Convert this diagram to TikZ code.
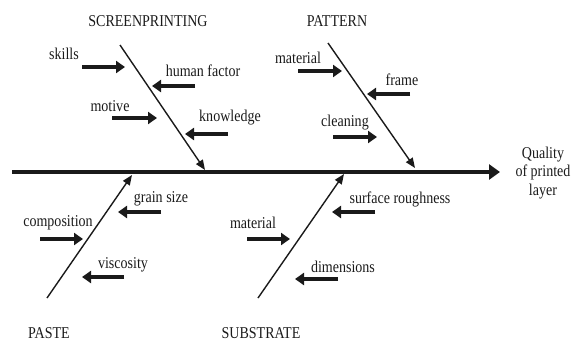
\documentclass[tikz,border=0pt]{standalone}
\usepackage{fontspec}
\setmainfont{Liberation Serif}[FakeStretch=0.85]
\usetikzlibrary{arrows.meta}
\definecolor{InkBlack}{HTML}{1A1A1A}

\begin{document}
\begin{tikzpicture}[x=1pt,y=-1pt,
  every node/.style={font=\fontsize{16.5}{18.5}\selectfont, inner sep=0pt, color=InkBlack},
  spine/.style={line width=4pt, InkBlack, -{Triangle[length=11pt,width=15pt]}},
  bone/.style={line width=1.4pt, InkBlack, -{Triangle[length=10pt,width=8pt]}},
  cause/.style={line width=3.5pt, InkBlack, -{Triangle[length=9pt,width=12pt]}}]
  \useasboundingbox (0,0) rectangle (574,343);

  % main spine
  \coordinate (tail) at (12,172);
  \coordinate (head) at (500,172);
  \draw[spine] (tail) -- (head);
  \node[align=center] (effect) at (543,173) {Quality\\of printed\\layer};

  % screenprinting
  \node (screen) at (148,21) {SCREENPRINTING};
  \coordinate (s1) at (120,45);
  \coordinate (s2) at (205,170);
  \draw[bone] (s1) -- (s2);
  \node (skills) at (64,54) {skills};
  \draw[cause] (82,67) -- (125,67);
  \node (human) at (203,71) {human factor};
  \draw[cause] (195,86) -- (152,86);
  \node (motive) at (110,106) {motive};
  \draw[cause] (112,118) -- (157,118);
  \node (knowl) at (230,118) {knowledge};
  \draw[cause] (228,134) -- (185,134);

  % pattern
  \node (pattern) at (337,21) {PATTERN};
  \coordinate (p1) at (328,43);
  \coordinate (p2) at (415,168);
  \draw[bone] (p1) -- (p2);
  \node (pmat) at (298,58) {material};
  \draw[cause] (298,71) -- (342,71);
  \node (frame) at (402,80) {frame};
  \draw[cause] (410,94) -- (367,94);
  \node (clean) at (345,123) {cleaning};
  \draw[cause] (333,137) -- (377,137);

  % paste
  \node (paste) at (49,333) {PASTE};
  \coordinate (a1) at (47,298);
  \coordinate (a2) at (132,175);
  \draw[bone] (a1) -- (a2);
  \node (grain) at (161,199) {grain size};
  \draw[cause] (161,212) -- (118,212);
  \node (comp) at (58,223) {composition};
  \draw[cause] (40,239) -- (83,239);
  \node (visc) at (123,265) {viscosity};
  \draw[cause] (124,277) -- (82,277);

  % substrate
  \node (substr) at (261,333) {SUBSTRATE};
  \coordinate (b1) at (258,298);
  \coordinate (b2) at (344,174);
  \draw[bone] (b1) -- (b2);
  \node (smat) at (253,223) {material};
  \draw[cause] (247,239) -- (290,239);
  \node (rough) at (400,199) {surface roughness};
  \draw[cause] (375,212) -- (332,212);
  \node (dim) at (343,267) {dimensions};
  \draw[cause] (338,279) -- (295,279);
\end{tikzpicture}
\end{document}
